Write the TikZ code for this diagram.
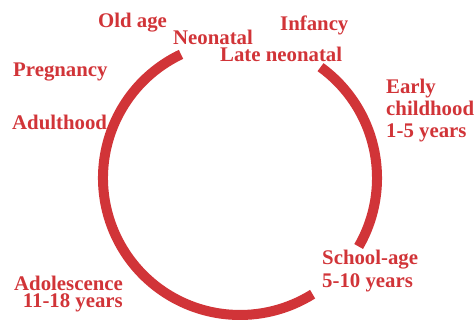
\documentclass[tikz,border=0pt]{standalone}
\usepackage{fontspec}
\setmainfont{Liberation Serif}
\usetikzlibrary{positioning}
\definecolor{stagec}{RGB}{209,52,56}

\begin{document}
\begin{tikzpicture}[x=1pt, y=1pt,
  % life-stage labels
  stage/.style={text=stagec, inner sep=0pt, font=\fontsize{20.8}{22}\selectfont\bfseries},
  ring/.style={draw=stagec, line width=10pt},
]
\useasboundingbox (0,0) rectangle (476,320);

%% ── the ring : two arcs, gaps at top and lower right ─────────────
\coordinate (c) at (240,142);
\draw[ring] (c) ++(115.5:137) arc[start angle=115.5, end angle=302, radius=137];
\draw[ring] (c) ++(-30:137) arc[start angle=-30, end angle=54, radius=137];

%% ── labels round the top gap ─────────────────────────────────────
\node[stage, anchor=base west] (oldage)   at (98,292)  {Old age};
\node[stage, anchor=base west] (neonatal) at (173,275) {Neonatal};
\node[stage, anchor=base west] (infancy)  at (280,289) {Infancy};
\node[stage, anchor=base west] (lateneo)  at (220,258) {Late neonatal};

%% ── left side (multi-line nodes sit on their last baseline) ──────
\node[stage, anchor=base west] (pregnancy) at (13,243) {Pregnancy};
\node[stage, anchor=base west] (adult)     at (12,190) {Adulthood};
\node[stage, anchor=base east, align=right,
      font=\fontsize{20.8}{17.5}\selectfont\bfseries] (adolescence) at (123,12)
  {Adolescence\\11-18 years};

%% ── right side ───────────────────────────────────────────────────
\node[stage, anchor=base west, align=left] (early)  at (386,182) {Early\\childhood\\1-5 years};
\node[stage, anchor=base west, align=left,
      font=\fontsize{20.8}{23}\selectfont\bfseries] (school) at (322,32)
  {School-age\\5-10 years};

\end{tikzpicture}
\end{document}
